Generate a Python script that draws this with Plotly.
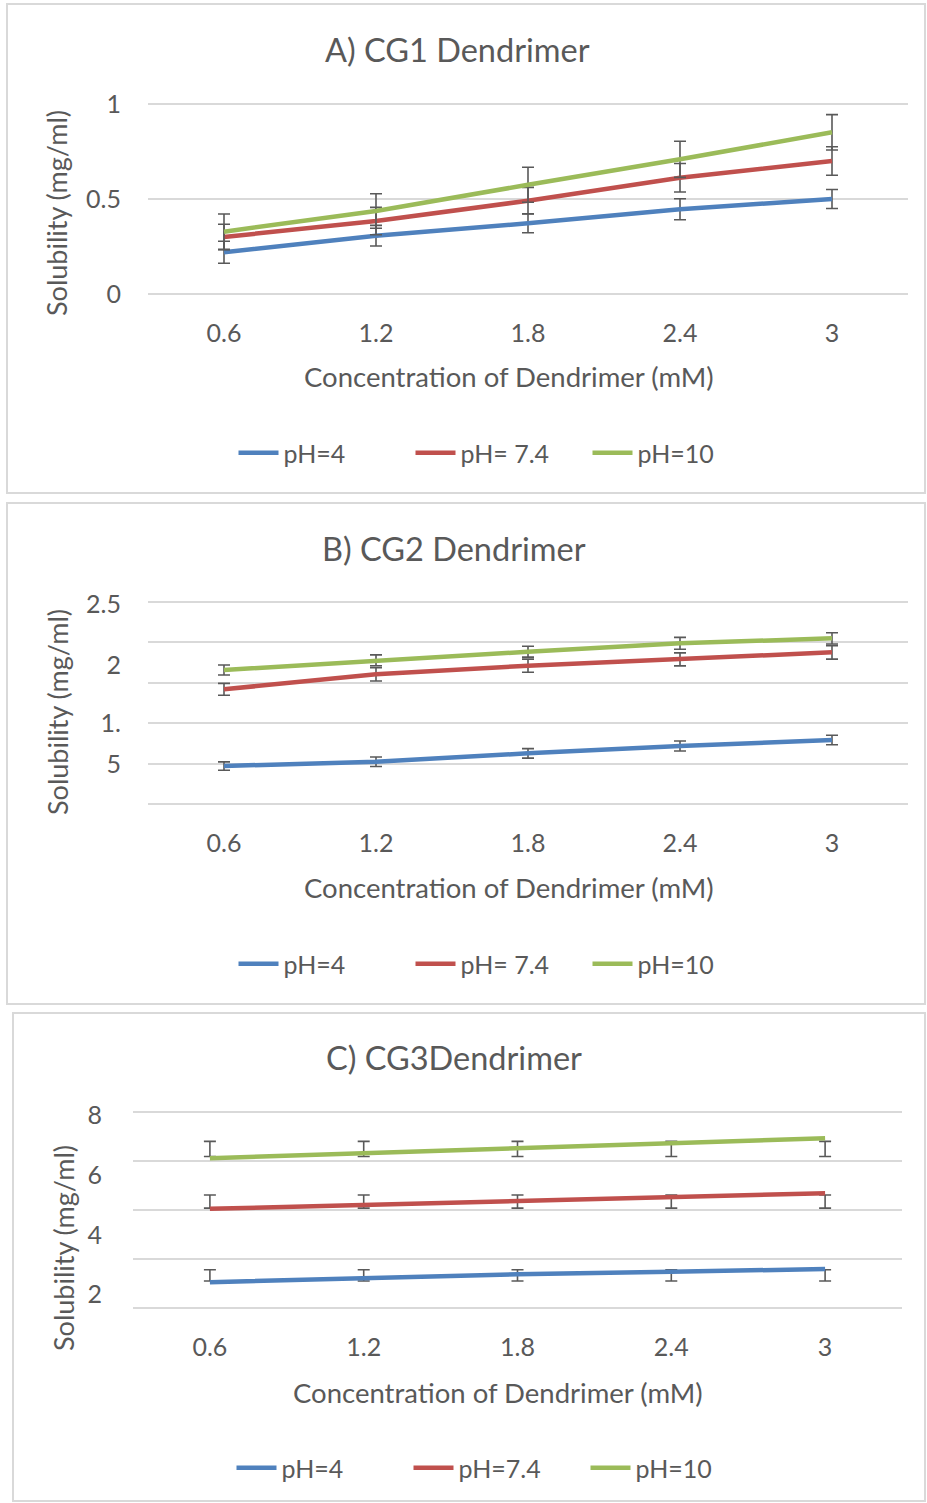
import plotly.graph_objects as go

# ---------------- data ----------------
conc = ["0.6", "1.2", "1.8", "2.4", "3"]

a_ph4 = [0.22, 0.307, 0.372, 0.446, 0.50]
a_ph4_err = [0.058, 0.054, 0.05, 0.055, 0.05]
a_ph74 = [0.30, 0.384, 0.491, 0.612, 0.70]
a_ph74_err = [0.067, 0.072, 0.07, 0.075, 0.075]
a_ph10 = [0.328, 0.437, 0.575, 0.709, 0.851]
a_ph10_err = [0.093, 0.091, 0.092, 0.095, 0.093]

b_ph4 = [1.282, 1.314, 1.376, 1.431, 1.475]
b_ph4_err = [0.031, 0.035, 0.035, 0.037, 0.035]
b_ph74 = [1.852, 1.963, 2.027, 2.074, 2.126]
b_ph74_err = [0.044, 0.05, 0.049, 0.048, 0.05]
b_ph10 = [1.995, 2.067, 2.131, 2.193, 2.230]
b_ph10_err = [0.037, 0.04, 0.04, 0.044, 0.042]

c_ph4 = [1.04, 1.20, 1.37, 1.47, 1.58]
c_ph74 = [4.04, 4.20, 4.34, 4.52, 4.68]
c_ph10 = [6.11, 6.31, 6.49, 6.72, 6.93]
# error bars in panel C are drawn at a fixed level per series
c_ph4_errpos = [1.32, 1.32, 1.32, 1.32, 1.32]
c_ph4_err = [0.23, 0.23, 0.23, 0.23, 0.23]
c_ph74_errpos = [4.34, 4.34, 4.34, 4.34, 4.34]
c_ph74_err = [0.27, 0.27, 0.27, 0.27, 0.27]
c_ph10_errpos = [6.49, 6.49, 6.49, 6.49, 6.49]
c_ph10_err = [0.31, 0.31, 0.31, 0.31, 0.31]

# tick labels (as they appear in the source)
a_tickvals = [0, 0.5, 1]
a_ticktext = ["0", "0.5", "1"]
a_gridvals = [0.0001, 0.5001, 1.0001]
b_tickvals = [2.485, 2.032, 1.601, 1.297]
b_ticktext = ["2.5", "2", "1.", "5"]
b_gridvals = [1.0, 1.3, 1.6, 1.9, 2.2, 2.5]
c_tickvals = [7.88, 5.43, 2.97, 0.56]
c_ticktext = ["8", "6", "4", "2"]
c_gridvals = [0, 2, 4, 6, 8]

titles = ["A) CG1 Dendrimer", "B) CG2 Dendrimer", "C) CG3Dendrimer"]
x_title = "Concentration of Dendrimer (mM)"
y_title = "Solubility (mg/ml)"

# ---------------- style ----------------
W, H = 927, 1503
FONT = "Lato"
TXT = "#595959"
GRID = "#D9D9D9"
BLUE, RED, GREEN = "#4F81BD", "#C0504D", "#9BBB59"
ERRC = "#595959"
LW = 4.5
PADPX = 3.0


def px_x(p):
    return p / W


def px_y(p):
    return 1 - p / H


fig = go.Figure()


def err(vals):
    return dict(type="data", array=vals, visible=True, color=ERRC, thickness=1.6, width=6)


def add_line(y, name, color, xa, ya, legend, e=None):
    fig.add_trace(go.Scatter(
        x=conc, y=y, name=name, mode="lines",
        line=dict(color=color, width=LW),
        error_y=err(e) if e is not None else None,
        xaxis=xa, yaxis=ya, legend=legend, showlegend=True,
    ))


def add_err_only(y, e, xa, ya):
    fig.add_trace(go.Scatter(
        x=conc, y=y, mode="markers", marker=dict(size=1, color="rgba(0,0,0,0)"),
        error_y=err(e), xaxis=xa, yaxis=ya, showlegend=False, hoverinfo="skip",
    ))


# Panel A
add_line(a_ph4, "pH=4", BLUE, "x", "y", "legend", a_ph4_err)
add_line(a_ph74, "pH= 7.4", RED, "x", "y", "legend", a_ph74_err)
add_line(a_ph10, "pH=10", GREEN, "x", "y", "legend", a_ph10_err)
# Panel B
add_line(b_ph4, "pH=4", BLUE, "x2", "y2", "legend2", b_ph4_err)
add_line(b_ph74, "pH= 7.4", RED, "x2", "y2", "legend2", b_ph74_err)
add_line(b_ph10, "pH=10", GREEN, "x2", "y2", "legend2", b_ph10_err)
# Panel C (error bars first, lines on top)
add_err_only(c_ph4_errpos, c_ph4_err, "x3", "y3")
add_err_only(c_ph74_errpos, c_ph74_err, "x3", "y3")
add_err_only(c_ph10_errpos, c_ph10_err, "x3", "y3")
add_line(c_ph4, "pH=4", BLUE, "x3", "y3", "legend3")
add_line(c_ph74, "pH=7.4", RED, "x3", "y3", "legend3")
add_line(c_ph10, "pH=10", GREEN, "x3", "y3", "legend3")

TICKSIZE = 25
tickfont = dict(family=FONT, size=TICKSIZE, color=TXT)

xdomAB = [px_x(148), px_x(908)]
xdomC = [px_x(133), px_x(902)]


def xaxis(dom, anchor):
    return dict(domain=dom, anchor=anchor, type="category", range=[-0.5, 4.5],
                showgrid=False, zeroline=False, showline=False, ticks="outside",
                ticklen=14, tickcolor="rgba(0,0,0,0)", tickfont=tickfont,
                fixedrange=True)


def yaxis(top_px, bot_px, anchor, lo, hi, tv, tt, gv, standoff):
    # gridline ends sit a few pixels inside the plotting area so they are drawn
    L = bot_px - top_px
    e = (hi - lo) * PADPX / L
    dom = [px_y(bot_px + PADPX), px_y(top_px - PADPX)]
    return dict(domain=dom, anchor=anchor, range=[lo - e, hi + e], showgrid=False,
                zeroline=False, showline=False, tickmode="array", tickvals=tv,
                ticktext=tt, ticks="outside", ticklen=standoff,
                tickcolor="rgba(0,0,0,0)", tickfont=tickfont, fixedrange=True,
                minor=dict(tickmode="array", tickvals=gv, showgrid=True,
                           gridcolor=GRID, gridwidth=1.6, ticks=""))


fig.update_layout(
    xaxis=xaxis(xdomAB, "y"),
    yaxis=yaxis(104, 294, "x", 0, 1, a_tickvals, a_ticktext, a_gridvals, 21),
    xaxis2=xaxis(xdomAB, "y2"),
    yaxis2=yaxis(602, 804, "x2", 1.0, 2.5, b_tickvals, b_ticktext, b_gridvals, 21),
    xaxis3=xaxis(xdomC, "y3"),
    yaxis3=yaxis(1112, 1307.7, "x3", 0, 8, c_tickvals, c_ticktext, c_gridvals, 25),
)

legend_common = dict(orientation="h", xanchor="center", yanchor="middle",
                     font=dict(family=FONT, size=25, color=TXT),
                     bgcolor="rgba(0,0,0,0)", itemwidth=40, tracegroupgap=0,
                     entrywidth=122, entrywidthmode="pixels")
fig.update_layout(
    legend=dict(x=px_x(499), y=px_y(453), **legend_common),
    legend2=dict(x=px_x(499), y=px_y(964), **legend_common),
    legend3=dict(x=px_x(497), y=px_y(1468), **legend_common),
)

ann = []
for t, xx, yy in [(titles[0], 457, 50), (titles[1], 454, 548), (titles[2], 454, 1057)]:
    ann.append(dict(text=t, x=px_x(xx), y=px_y(yy), xref="paper", yref="paper",
                    showarrow=False, xanchor="center", yanchor="middle",
                    font=dict(family=FONT, size=32.5, color=TXT)))
for xx, yy in [(509, 377), (509, 888), (498, 1392)]:
    ann.append(dict(text=x_title, x=px_x(xx), y=px_y(yy), xref="paper", yref="paper",
                    showarrow=False, xanchor="center", yanchor="middle",
                    font=dict(family=FONT, size=27.5, color=TXT)))
for xx, yy in [(57, 213), (57, 712), (63, 1248)]:
    ann.append(dict(text=y_title, x=px_x(xx), y=px_y(yy), xref="paper", yref="paper",
                    showarrow=False, xanchor="center", yanchor="middle", textangle=-90,
                    font=dict(family=FONT, size=27, color=TXT)))

shapes = []
for x0, y0, x1, y1 in [(7, 4, 925, 493), (7, 503, 925, 1004), (13, 1013, 925, 1501)]:
    shapes.append(dict(type="rect", xref="paper", yref="paper",
                       x0=px_x(x0), x1=px_x(x1), y0=px_y(y1), y1=px_y(y0),
                       line=dict(color=GRID, width=2), fillcolor="rgba(0,0,0,0)",
                       layer="below"))

fig.update_layout(
    width=W, height=H, margin=dict(l=0, r=0, t=0, b=0, pad=0, autoexpand=False),
    paper_bgcolor="white", plot_bgcolor="white",
    annotations=ann, shapes=shapes,
    font=dict(family=FONT, color=TXT),
)

fig.write_html(
    "out.html",
    config={"displayModeBar": False},
    post_script="document.body.style.margin='0px';document.body.style.padding='0px';"
                "document.documentElement.style.overflow='hidden';",
)
